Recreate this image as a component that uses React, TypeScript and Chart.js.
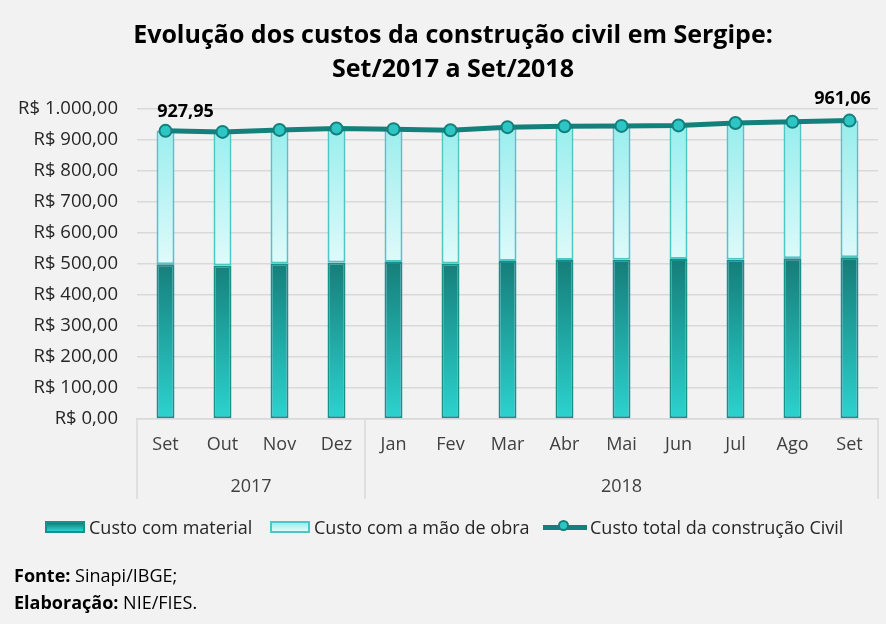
import { useEffect, useRef } from "react";
import { Chart, registerables } from "chart.js";

Chart.register(...registerables);

// values (R$)
const months = ["Set", "Out", "Nov", "Dez", "Jan", "Fev", "Mar", "Abr", "Mai", "Jun", "Jul", "Ago", "Set"];
const years = ["2017", "2018"];
const monthsPerYear = [4, 9];
const materialCost = [498.0, 494.5, 501.0, 504.0, 506.0, 501.0, 509.0, 512.0, 513.0, 515.0, 513.0, 518.0, 521.0];
const laborCost = [429.95, 430.2, 430.0, 431.6, 427.5, 429.0, 431.0, 431.0, 431.0, 430.5, 440.5, 439.0, 440.06];
const totalCost = [927.95, 924.7, 931.0, 935.6, 933.5, 930.0, 940.0, 943.0, 944.0, 945.5, 953.5, 957.0, 961.06];
const labelledPoints = [0, 12];
const yTicks = [0, 100, 200, 300, 400, 500, 600, 700, 800, 900, 1000];

const FONT = "'Open Sans', Lato, sans-serif";
const GRID = "#d9d9d9";

function brl(v: number) {
  const [int, dec] = v.toFixed(2).split(".");
  return int.replace(/\B(?=(\d{3})+(?!\d))/g, ".") + "," + dec;
}

// the original title is centred a bit right of the canvas centre
const titleShift = {
  id: "titleShift",
  afterLayout(chart: any) {
    if (chart.titleBlock) chart.titleBlock.left += 28;
  },
};

// year row under the months, with the separators
const yearRow = {
  id: "yearRow",
  afterDraw(chart: any) {
    const { ctx } = chart;
    const x = chart.scales.x;
    const bounds: number[] = [x.left];
    let idx = 0;
    monthsPerYear.forEach((n, i) => {
      idx += n;
      bounds.push(i === monthsPerYear.length - 1 ? x.right : (x.getPixelForTick(idx - 1) + x.getPixelForTick(idx)) / 2);
    });
    ctx.save();
    ctx.strokeStyle = GRID;
    ctx.lineWidth = 1.5;
    bounds.forEach((b) => {
      ctx.beginPath();
      ctx.moveTo(b, x.top);
      ctx.lineTo(b, x.bottom);
      ctx.stroke();
    });
    ctx.fillStyle = "#404040";
    ctx.font = `18px ${FONT}`;
    ctx.textAlign = "center";
    ctx.textBaseline = "middle";
    years.forEach((y, i) => {
      ctx.fillText(y, (bounds[i] + bounds[i + 1]) / 2, x.bottom - 12);
    });
    ctx.restore();
  },
};

// value labels on the first and the last point of the total line
const pointLabels = {
  id: "pointLabels",
  afterDatasetsDraw(chart: any) {
    const { ctx } = chart;
    const meta = chart.getDatasetMeta(2);
    const shift: Record<number, [number, number]> = { 0: [20, -19], 12: [-7, -22] };
    ctx.save();
    ctx.fillStyle = "#000";
    ctx.font = `bold 18px ${FONT}`;
    ctx.textAlign = "center";
    ctx.textBaseline = "middle";
    labelledPoints.forEach((i) => {
      const p = meta.data[i];
      const [dx, dy] = shift[i];
      ctx.fillText(brl(totalCost[i]), p.x + dx, p.y + dy);
    });
    ctx.restore();
  },
};

function gradient(chart: any, from: number, to: number, top: string, bottom: string) {
  const y = chart.scales.y;
  if (!y) return top;
  const y0 = y.getPixelForValue(from);
  const y1 = y.getPixelForValue(to);
  if (!isFinite(y0) || !isFinite(y1) || y0 === y1) return top;
  const g = chart.ctx.createLinearGradient(0, y0, 0, y1);
  g.addColorStop(0, top);
  g.addColorStop(1, bottom);
  return g;
}

export default function App() {
  const canvasRef = useRef<HTMLCanvasElement | null>(null);
  const chartRef = useRef<Chart | null>(null);

  useEffect(() => {
    document.body.style.margin = "0";
    const ctx = canvasRef.current?.getContext("2d");
    if (!ctx) return;
    chartRef.current?.destroy();

    chartRef.current = new Chart(ctx, {
      type: "bar",
      data: {
        labels: months,
        datasets: [
          {
            label: "Custo com material",
            data: materialCost,
            stack: "custo",
            order: 1,
            backgroundColor: (c: any) => gradient(c.chart, 500, 0, "#167f7b", "#2cd3cf"),
            borderColor: "#15908b",
            borderWidth: 2,
            borderSkipped: false,
            barPercentage: 0.9,
            categoryPercentage: 0.35,
          },
          {
            label: "Custo com a mão de obra",
            data: laborCost,
            stack: "custo",
            order: 1,
            backgroundColor: (c: any) => gradient(c.chart, 930, 500, "#9beeee", "#e0fafa"),
            borderColor: "#4cc7c7",
            borderWidth: 2,
            borderSkipped: false,
            barPercentage: 0.9,
            categoryPercentage: 0.35,
          },
          {
            type: "line",
            label: "Custo total da construção Civil",
            data: totalCost,
            stack: "total",
            order: 0,
            borderColor: "#14807b",
            borderWidth: 5,
            pointRadius: 6,
            pointBackgroundColor: "#2ec5c5",
            pointBorderColor: "#14807b",
            pointBorderWidth: 2,
            tension: 0,
          } as any,
        ],
      },
      options: {
        animation: false,
        responsive: true,
        maintainAspectRatio: false,
        layout: { padding: { left: 0, right: 8, top: 0, bottom: 125 } },
        plugins: {
          legend: { display: false },
          tooltip: { enabled: false },
          title: {
            display: true,
            text: ["Evolução dos custos da construção civil em Sergipe:", "Set/2017 a Set/2018"],
            color: "#000",
            font: { family: FONT, size: 25, weight: "bold", lineHeight: 1.36 },
            padding: { top: 19, bottom: 21.5 },
          },
        },
        scales: {
          x: {
            stacked: true,
            grid: { display: false, drawTicks: false },
            border: { display: true, color: GRID, width: 1.5 },
            ticks: { color: "#404040", font: { family: FONT, size: 18 }, padding: 15, maxRotation: 0, autoSkip: false },
            afterFit: (s: any) => {
              s.height = 80;
            },
          },
          y: {
            stacked: true,
            min: 0,
            max: 1000,
            afterBuildTicks: (s: any) => {
              s.ticks = yTicks.map((v) => ({ value: v }));
            },
            grid: { color: GRID, lineWidth: 1.5, drawTicks: false },
            border: { display: false },
            ticks: {
              color: "#262626",
              font: { family: FONT, size: 18.5 },
              padding: 19,
              callback: (v: any) => "R$ " + brl(Number(v)),
            },
            afterFit: (s: any) => {
              s.width = 137;
            },
          },
        },
      },
      plugins: [titleShift, yearRow, pointLabels],
    });

    return () => {
      chartRef.current?.destroy();
      chartRef.current = null;
    };
  }, []);

  const legendText = { position: "absolute" as const, top: 516, fontSize: 18, color: "#262626", lineHeight: "22px" };
  const box = { position: "absolute" as const, top: 521, width: 40, height: 12, boxSizing: "border-box" as const };

  return (
    <div style={{ position: "relative", width: 886, height: 624, background: "#f2f2f2", fontFamily: FONT, overflow: "hidden" }}>
      <canvas ref={canvasRef} />
      <div style={{ ...box, left: 45, border: "2px solid #15908b", background: "linear-gradient(#167f7b, #2cd3cf)" }} />
      <span style={{ ...legendText, left: 89 }}>Custo com material</span>
      <div style={{ ...box, left: 270, border: "2px solid #4cc7c7", background: "linear-gradient(#9beeee, #e0fafa)" }} />
      <span style={{ ...legendText, left: 314 }}>Custo com a mão de obra</span>
      <div style={{ position: "absolute", top: 525, left: 543, width: 44, height: 5, background: "#14807b" }} />
      <div style={{ position: "absolute", top: 520, left: 558, width: 11, height: 11, borderRadius: "50%", background: "#2ec5c5", border: "2px solid #14807b", boxSizing: "border-box" }} />
      <span style={{ ...legendText, left: 590 }}>Custo total da construção Civil</span>
      <div style={{ position: "absolute", left: 14, top: 562, fontSize: 18, lineHeight: "27px", color: "#000" }}>
        <div><b>Fonte:</b> Sinapi/IBGE;</div>
        <div><b>Elaboração:</b> NIE/FIES.</div>
      </div>
    </div>
  );
}
